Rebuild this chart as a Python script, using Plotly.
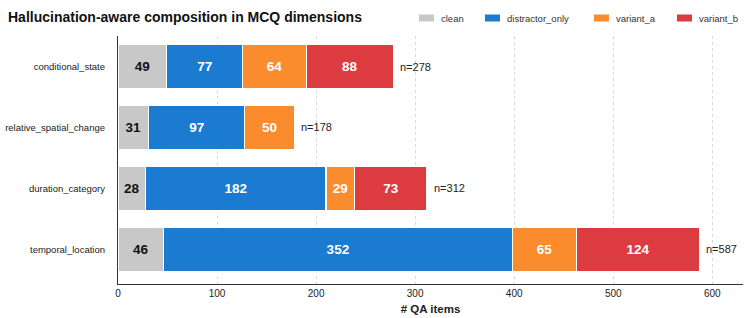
import plotly.graph_objects as go

categories = ["conditional_state", "relative_spatial_change", "duration_category", "temporal_location"]
clean = [49, 31, 28, 46]
distractor_only = [77, 97, 182, 352]
variant_a = [64, 50, 29, 65]
variant_b = [88, None, 73, 124]
totals = [278, 178, 312, 587]
x_ticks = [0, 100, 200, 300, 400, 500, 600]

series = [
    ("clean", clean, "#c8c8c8", "#111111"),
    ("distractor_only", distractor_only, "#1b7bd0", "white"),
    ("variant_a", variant_a, "#fb8c2e", "white"),
    ("variant_b", variant_b, "#dc3c40", "white"),
]

W, H = 745, 318
ML, MR, MT, MB = 118, 2, 36, 34
PW, PH = W - ML - MR, H - MT - MB
FONT = "Liberation Sans, Arial, sans-serif"


def px_x(p):
    return (p - ML) / PW


def px_y(p):
    return (H - MB - p) / PH


fig = go.Figure()
for name, vals, color, tcolor in series:
    fig.add_trace(go.Bar(
        y=categories, x=vals, name=name, orientation="h",
        marker=dict(color=color, line=dict(color="white", width=1.2)),
        text=[("" if v is None else str(v)) for v in vals],
        textposition="inside", insidetextanchor="middle",
        textfont=dict(family=FONT, size=13.5, color=tcolor, weight="bold"),
        width=0.74, showlegend=False,
        hoverinfo="skip",
    ))

for cat, tot in zip(categories, totals):
    fig.add_annotation(x=tot, y=cat, text=f"n={tot}", showarrow=False,
                       xanchor="left", xshift=5,
                       font=dict(family=FONT, size=11, color="#222222"))

# manual legend
legend_sq = [419, 485, 594, 677]
for (name, vals, color, tcolor), sx in zip(series, legend_sq):
    fig.add_shape(type="rect", xref="paper", yref="paper",
                  x0=px_x(sx), x1=px_x(sx + 15), y0=px_y(21.5), y1=px_y(14.5),
                  fillcolor=color, line=dict(width=0), layer="above")
    fig.add_annotation(xref="paper", yref="paper", x=px_x(sx + 20), y=px_y(18),
                       text=name, showarrow=False, xanchor="left", yanchor="middle",
                       font=dict(family=FONT, size=9.5, color="#333333"))

fig.update_layout(
    width=W, height=H,
    barmode="stack",
    paper_bgcolor="white", plot_bgcolor="white",
    margin=dict(l=ML, r=MR, t=MT, b=MB, autoexpand=False),
    title=dict(text="<b>Hallucination-aware composition in MCQ dimensions</b>",
               x=8 / W, xanchor="left", y=1 - 17 / H, yanchor="middle",
               font=dict(family=FONT, size=14, color="#111111")),
    font=dict(family=FONT, size=10, color="#222222"),
    showlegend=False,
)
fig.update_xaxes(range=[0, 631], tickvals=x_ticks, showgrid=True,
                 gridcolor="#d9d9d9", griddash="dot", gridwidth=1,
                 showline=True, linecolor="#333333", linewidth=1.2,
                 zeroline=False, ticks="", automargin=False,
                 tickfont=dict(family=FONT, size=10, color="#222222"),
                 title=dict(text="<b># QA items</b>", font=dict(family=FONT, size=11.5, color="#222222"), standoff=6))
fig.update_yaxes(categoryorder="array", categoryarray=categories, range=[3.566, -0.5],
                 showline=True, linecolor="#333333", linewidth=1.2, showgrid=False,
                 ticks="", ticklabelstandoff=10, automargin=False,
                 tickfont=dict(family=FONT, size=9.5, color="#222222"))

fig.write_html("out.html", config={"displayModeBar": False},
               post_script="document.body.style.margin='0';document.body.style.padding='0';document.body.style.overflow='hidden';")
